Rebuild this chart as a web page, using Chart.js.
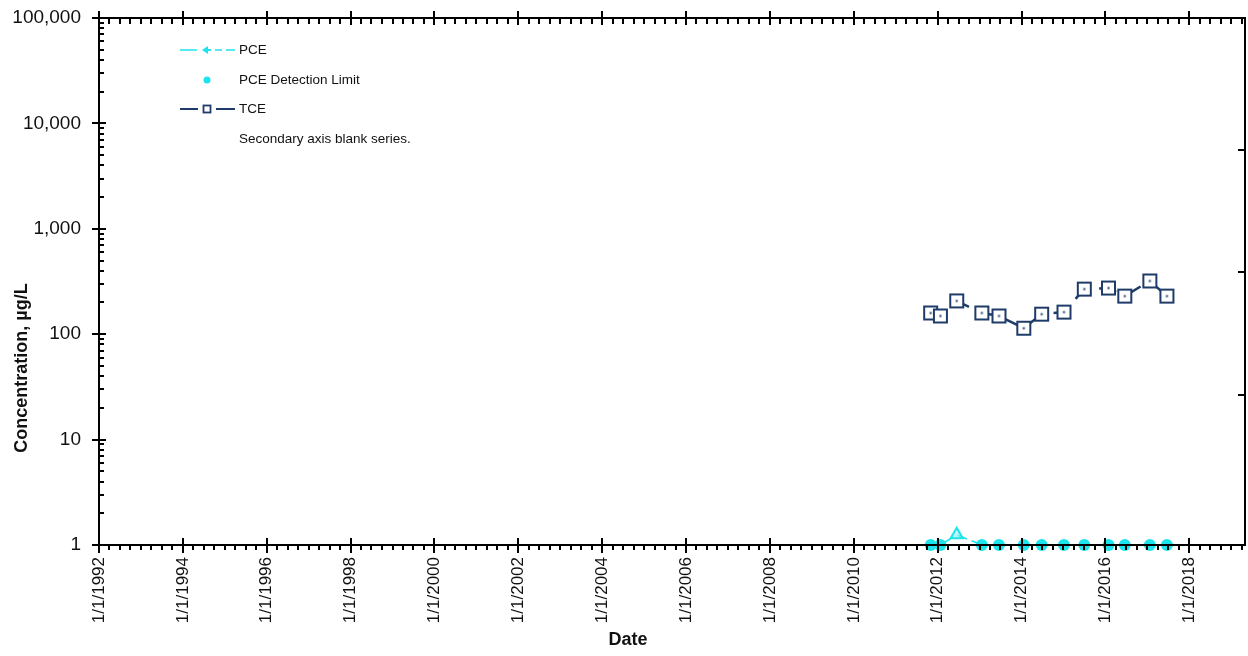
<!DOCTYPE html>
<html><head><meta charset="utf-8">
<script src="https://cdn.jsdelivr.net/npm/chart.js@4.4.0/dist/chart.umd.min.js"></script>
<style>html,body{margin:0;padding:0;background:#fff;overflow:hidden}#wrap{width:1248px;height:656px}</style>
</head><body><div id="wrap"><canvas id="c" width="1248" height="656"></canvas></div>
<script>
// ---- data ----
const sampleDates = ['2011-11-01','2012-01-25','2012-06-15','2013-01-20','2013-06-18','2014-01-20','2014-06-25','2015-01-05','2015-07-01','2016-01-28','2016-06-18','2017-01-22','2017-06-20'];
const tceValues = [159,149,207,159,149,114,155,162,268,274,230,320,230];
const pceValues = [1,1,1.25,1,1,1,1,1,1,1,1,1,1];
const pceDetected = [false,false,true,false,false,false,false,false,false,false,false,false,false];
const pceDetectionLimit = [1,1,null,1,1,1,1,1,1,1,1,1,1];
const yTickValues = [1,10,100,1000,10000,100000];
const xTickYears = [1992,1994,1996,1998,2000,2002,2004,2006,2008,2010,2012,2014,2016,2018];
const secondaryTickValues = [0.285,0.518,0.75];
const seriesLabels = ['PCE','PCE Detection Limit','TCE','Secondary axis blank series.'];

const CYAN = '#1DE3EC';
const NAVY = '#1F3B6A';
const FONT = "'Liberation Sans', Arial, sans-serif";

function toMs(s){const p=s.split('-').map(Number);return Date.UTC(p[0],p[1]-1,p[2]);}
const xs = sampleDates.map(toMs);

// TCE marker: open square with a centre dot
function makeSquare(size){
  const c=document.createElement('canvas'); c.width=size+4; c.height=size+4;
  const g=c.getContext('2d');
  g.fillStyle='#fff'; g.fillRect(2,2,size,size);
  g.strokeStyle=NAVY; g.lineWidth=2; g.strokeRect(2,2,size,size);
  g.fillStyle=NAVY; const m=(size+4)/2; g.fillRect(m-1,m-1,2,2);
  return c;
}
const squareImg = makeSquare(13);

const decoPlugin = {
  id:'deco',
  afterDraw(chart){
    const ctx=chart.ctx, a=chart.chartArea, X=chart.scales.x, Y=chart.scales.y, Y2=chart.scales.y2;
    ctx.save();
    ctx.strokeStyle='#000'; ctx.lineWidth=2;
    ctx.strokeRect(a.left,a.top,a.right-a.left,a.bottom-a.top);
    ctx.beginPath();
    for(let yr=1992; yr<=2020; yr++){
      for(let q=0;q<4;q++){
        const v=Date.UTC(yr,q*3,1);
        if(v<X.min||v>X.max) continue;
        const px=Math.round(X.getPixelForValue(v));
        if(q===0 && xTickYears.includes(yr)){
          ctx.moveTo(px,a.bottom-7); ctx.lineTo(px,a.bottom+8);
          ctx.moveTo(px,a.top-7); ctx.lineTo(px,a.top+7);
        } else {
          ctx.moveTo(px,a.bottom); ctx.lineTo(px,a.bottom+5);
          ctx.moveTo(px,a.top); ctx.lineTo(px,a.top+6);
        }
      }
    }
    for(const v of yTickValues){
      const py=Math.round(Y.getPixelForValue(v));
      ctx.moveTo(a.left-7,py); ctx.lineTo(a.left+7,py);
    }
    for(let d=0; d<5; d++){
      for(let m=2;m<=9;m++){
        const py=Math.round(Y.getPixelForValue(m*Math.pow(10,d)));
        ctx.moveTo(a.left,py); ctx.lineTo(a.left+5,py);
      }
    }
    for(const v of secondaryTickValues){
      const py=Math.round(Y2.getPixelForValue(v));
      ctx.moveTo(a.right-7,py); ctx.lineTo(a.right,py);
    }
    ctx.stroke();

    // axis titles
    ctx.fillStyle='#111';
    ctx.font='bold 18px '+FONT;
    ctx.textAlign='center'; ctx.textBaseline='middle';
    ctx.fillText('Date',628,640);
    ctx.save(); ctx.translate(22,368); ctx.rotate(-Math.PI/2);
    ctx.fillText('Concentration, µg/L',0,0); ctx.restore();

    // legend
    const lx=180, tx=239, rows=[50,80,109,139];
    ctx.font='13.5px '+FONT; ctx.textAlign='left'; ctx.textBaseline='middle';
    ctx.strokeStyle=CYAN; ctx.lineWidth=1.6;
    ctx.beginPath(); ctx.moveTo(lx,rows[0]); ctx.lineTo(lx+17,rows[0]);
    ctx.moveTo(lx+35,rows[0]); ctx.lineTo(lx+42,rows[0]);
    ctx.moveTo(lx+46,rows[0]); ctx.lineTo(lx+55,rows[0]); ctx.stroke();
    ctx.fillStyle=CYAN; ctx.beginPath();
    ctx.moveTo(lx+22,rows[0]); ctx.lineTo(lx+28,rows[0]-4); ctx.lineTo(lx+28,rows[0]+4); ctx.closePath(); ctx.fill();
    ctx.fillRect(lx+26,rows[0]-1,5,2);
    ctx.beginPath(); ctx.arc(lx+27,rows[1],3.5,0,Math.PI*2); ctx.fill();
    ctx.strokeStyle=NAVY; ctx.lineWidth=2.2;
    ctx.beginPath(); ctx.moveTo(lx,rows[2]); ctx.lineTo(lx+18,rows[2]);
    ctx.moveTo(lx+36,rows[2]); ctx.lineTo(lx+55,rows[2]); ctx.stroke();
    ctx.lineWidth=1.8; ctx.strokeRect(lx+23.5,rows[2]-3.5,7,7);
    ctx.fillStyle='#111';
    seriesLabels.forEach((t,i)=>ctx.fillText(t,tx,rows[i]));
    ctx.restore();
  }
};

new Chart(document.getElementById('c'),{
  type:'line',
  data:{datasets:[
    {label:seriesLabels[0], data:xs.map((x,i)=>({x,y:pceValues[i]})), borderColor:CYAN, borderWidth:1.6, borderDash:[10,5],
     pointStyle:'triangle', pointRadius:pceDetected.map(d=>d?7:0), pointBackgroundColor:'rgba(140,240,246,0.6)', pointBorderColor:CYAN, pointBorderWidth:2, yAxisID:'y', order:3, clip:false},
    {label:seriesLabels[1], data:xs.map((x,i)=>({x,y:pceDetectionLimit[i]})), showLine:false, pointStyle:'circle', pointRadius:6,
     pointBackgroundColor:CYAN, pointBorderColor:CYAN, pointBorderWidth:0, yAxisID:'y', order:2, clip:false},
    {label:seriesLabels[2], data:xs.map((x,i)=>({x,y:tceValues[i]})), borderColor:NAVY, borderWidth:2.5, borderDash:[18,10],
     pointStyle:squareImg, pointRadius:8, yAxisID:'y', order:1, clip:false},
    {label:seriesLabels[3], data:[], yAxisID:'y2'}
  ]},
  options:{
    responsive:false, animation:false, events:[], devicePixelRatio:1,
    layout:{autoPadding:false, padding:{top:18,left:0,right:3,bottom:0}},
    plugins:{legend:{display:false},tooltip:{enabled:false}},
    scales:{
      x:{type:'linear', min:Date.UTC(1992,0,1), max:Date.UTC(2019,4,1),
         grid:{display:false}, border:{display:false},
         afterBuildTicks:s=>{s.ticks=xTickYears.map(y=>({value:Date.UTC(y,0,1)}));},
         ticks:{autoSkip:false, minRotation:90, maxRotation:90, padding:4, color:'#111', font:{family:FONT,size:17},
                callback:v=>'1/1/'+new Date(v).getUTCFullYear()},
         afterFit:s=>{s.height=111; s.paddingLeft=0; s.paddingRight=0;}},
      y:{type:'logarithmic', position:'left', min:1, max:100000,
         grid:{display:false}, border:{display:false},
         afterBuildTicks:s=>{s.ticks=yTickValues.map(v=>({value:v}));},
         ticks:{padding:10, color:'#111', font:{family:FONT,size:19}, callback:v=>Number(v).toLocaleString('en-US')},
         afterFit:s=>{s.width=99; s.paddingTop=0; s.paddingBottom=0;}},
      y2:{type:'linear', position:'right', min:0, max:1,
          grid:{display:false}, border:{display:false},
          afterBuildTicks:s=>{s.ticks=secondaryTickValues.map(v=>({value:v}));},
          ticks:{display:false},
          afterFit:s=>{s.width=0; s.paddingTop=0; s.paddingBottom=0;}}
    }
  },
  plugins:[decoPlugin]
});
</script></body></html>
